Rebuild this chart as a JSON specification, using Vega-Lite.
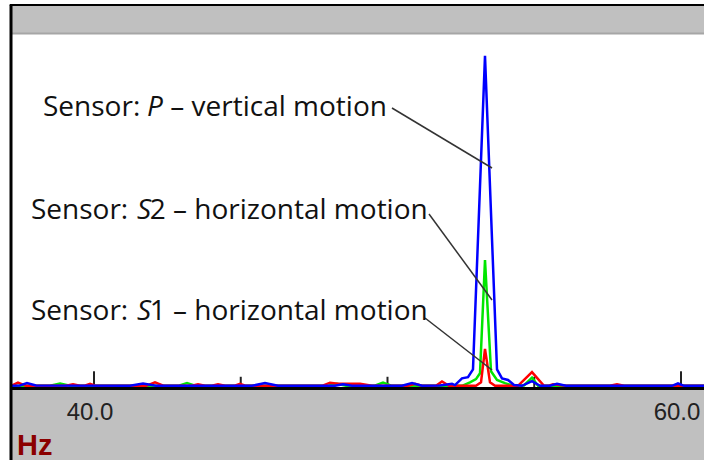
{
  "$schema": "https://vega.github.io/schema/vega-lite/v6.json",
  "width": 704,
  "height": 460,
  "padding": 0,
  "autosize": {"type": "none"},
  "background": "white",
  "config": {"view": {"stroke": null}},
  "datasets": {
    "header": [{"x": 37.14, "x2": 60.784, "y": 9.0, "y2": 9.70}],
    "footer": [{"x": 37.14, "x2": 60.784, "y": -1.856, "y2": -0.05}],
    "hgrid": [{"y": 1}, {"y": 2}, {"y": 3}, {"y": 4}, {"y": 5}, {"y": 6}, {"y": 7}, {"y": 8}],
    "vgrid": [{"x": 40}, {"x": 60}],
    "ticks": [
      {"x": 40, "y": 0, "y2": 0.4},
      {"x": 45, "y": 0, "y2": 0.26},
      {"x": 50, "y": 0, "y2": 0.26},
      {"x": 55, "y": 0, "y2": 0.26},
      {"x": 60, "y": 0, "y2": 0.4}
    ],
    "p": [
      {"x": 37.206, "y": 0.03}, {"x": 37.479, "y": 0.04}, {"x": 37.717, "y": 0.10}, {"x": 38.024, "y": 0.04},
      {"x": 41.227, "y": 0.03}, {"x": 41.670, "y": 0.09}, {"x": 42.112, "y": 0.03},
      {"x": 45.383, "y": 0.03}, {"x": 45.826, "y": 0.10}, {"x": 46.269, "y": 0.03},
      {"x": 48.211, "y": 0.03}, {"x": 48.484, "y": 0.07}, {"x": 48.790, "y": 0.03},
      {"x": 50.494, "y": 0.03}, {"x": 50.835, "y": 0.10}, {"x": 51.175, "y": 0.03},
      {"x": 51.789, "y": 0.04}, {"x": 52.198, "y": 0.08}, {"x": 52.300, "y": 0.05},
      {"x": 52.538, "y": 0.22}, {"x": 52.743, "y": 0.25}, {"x": 52.913, "y": 0.45},
      {"x": 53.322, "y": 8.42},
      {"x": 53.731, "y": 0.45}, {"x": 53.901, "y": 0.22}, {"x": 54.106, "y": 0.18}, {"x": 54.310, "y": 0.05},
      {"x": 54.583, "y": 0.03}, {"x": 54.923, "y": 0.15}, {"x": 55.196, "y": 0.03},
      {"x": 55.537, "y": 0.03}, {"x": 55.775, "y": 0.08}, {"x": 56.082, "y": 0.03},
      {"x": 59.693, "y": 0.03}, {"x": 59.898, "y": 0.09}, {"x": 60.102, "y": 0.03}, {"x": 60.784, "y": 0.03}
    ],
    "s2": [
      {"x": 37.206, "y": 0.03}, {"x": 38.501, "y": 0.03}, {"x": 38.842, "y": 0.09}, {"x": 39.183, "y": 0.03},
      {"x": 42.862, "y": 0.03}, {"x": 43.169, "y": 0.10}, {"x": 43.475, "y": 0.03},
      {"x": 47.973, "y": 0.03}, {"x": 48.279, "y": 0.08}, {"x": 48.586, "y": 0.03},
      {"x": 49.540, "y": 0.03}, {"x": 49.847, "y": 0.11}, {"x": 50.153, "y": 0.03},
      {"x": 52.538, "y": 0.03}, {"x": 52.811, "y": 0.12}, {"x": 53.015, "y": 0.20}, {"x": 53.152, "y": 0.35},
      {"x": 53.322, "y": 3.23},
      {"x": 53.527, "y": 0.40}, {"x": 53.731, "y": 0.18}, {"x": 54.003, "y": 0.10}, {"x": 54.242, "y": 0.04},
      {"x": 54.651, "y": 0.04}, {"x": 54.923, "y": 0.24}, {"x": 55.128, "y": 0.03}, {"x": 60.784, "y": 0.03}
    ],
    "s1": [
      {"x": 37.206, "y": 0.04}, {"x": 37.411, "y": 0.11}, {"x": 37.683, "y": 0.03},
      {"x": 39.046, "y": 0.03}, {"x": 39.284, "y": 0.07}, {"x": 39.523, "y": 0.03},
      {"x": 39.659, "y": 0.03}, {"x": 39.864, "y": 0.08}, {"x": 40.068, "y": 0.03},
      {"x": 41.772, "y": 0.03}, {"x": 42.078, "y": 0.12}, {"x": 42.385, "y": 0.03},
      {"x": 43.339, "y": 0.03}, {"x": 43.543, "y": 0.07}, {"x": 43.782, "y": 0.03},
      {"x": 44.022, "y": 0.03}, {"x": 44.225, "y": 0.07}, {"x": 44.463, "y": 0.03},
      {"x": 44.770, "y": 0.03}, {"x": 44.974, "y": 0.08}, {"x": 45.179, "y": 0.03},
      {"x": 47.768, "y": 0.03}, {"x": 48.041, "y": 0.11}, {"x": 48.313, "y": 0.08},
      {"x": 49.063, "y": 0.08}, {"x": 49.472, "y": 0.03},
      {"x": 50.699, "y": 0.03}, {"x": 50.937, "y": 0.08}, {"x": 51.175, "y": 0.03},
      {"x": 51.652, "y": 0.03}, {"x": 51.857, "y": 0.14}, {"x": 52.095, "y": 0.03},
      {"x": 53.015, "y": 0.03}, {"x": 53.186, "y": 0.12}, {"x": 53.322, "y": 0.97},
      {"x": 53.492, "y": 0.12}, {"x": 53.663, "y": 0.03},
      {"x": 54.446, "y": 0.03}, {"x": 54.923, "y": 0.38}, {"x": 55.332, "y": 0.03},
      {"x": 55.468, "y": 0.03}, {"x": 55.639, "y": 0.07}, {"x": 56.082, "y": 0.03},
      {"x": 57.581, "y": 0.03}, {"x": 57.819, "y": 0.07}, {"x": 58.058, "y": 0.03}, {"x": 60.784, "y": 0.03}
    ],
    "leaders": [
      {"x": 50.153, "y": 7.094, "x2": 53.561, "y2": 5.568},
      {"x": 51.414, "y": 4.399, "x2": 53.561, "y2": 2.212},
      {"x": 51.278, "y": 1.754, "x2": 53.561, "y2": 0.432}
    ],
    "ann_normal": [
      {"x": 38.262, "y": 6.89, "t": "Sensor:"},
      {"x": 42.60, "y": 6.89, "t": "– vertical motion"},
      {"x": 37.853, "y": 4.272, "t": "Sensor:"},
      {"x": 41.90, "y": 4.272, "t": "2 – horizontal motion"},
      {"x": 37.853, "y": 1.704, "t": "Sensor:"},
      {"x": 41.90, "y": 1.704, "t": "1 – horizontal motion"}
    ],
    "ann_italic": [
      {"x": 41.806, "y": 6.89, "t": "P"},
      {"x": 41.465, "y": 4.272, "t": "S"},
      {"x": 41.465, "y": 1.704, "t": "S"}
    ],
    "axlabels": [
      {"x": 39.864, "y": -0.839, "t": "40.0"},
      {"x": 59.864, "y": -0.839, "t": "60.0"}
    ],
    "unit": [{"x": 37.377, "y": -1.74, "t": "Hz"}]
  },
  "encoding": {
    "x": {"field": "x", "type": "quantitative", "scale": {"domain": [36.797, 60.784], "nice": false, "zero": false}, "axis": null},
    "y": {"field": "y", "type": "quantitative", "scale": {"domain": [-1.856, 9.84], "nice": false, "zero": false}, "axis": null}
  },
  "layer": [
    {
      "data": {"name": "hgrid"},
      "mark": {"type": "rule", "color": "#d9d9d9", "strokeWidth": 1.5},
      "encoding": {"x": {"datum": 37.2}, "x2": {"datum": 60.784}}
    },
    {
      "data": {"name": "vgrid"},
      "mark": {"type": "rule", "color": "#d9d9d9", "strokeWidth": 1.5},
      "encoding": {"y": {"datum": 0}, "y2": {"datum": 9}}
    },
    {
      "data": {"name": "header"},
      "mark": {"type": "rect", "color": "#c0c0c0"},
      "encoding": {"x2": {"field": "x2"}, "y2": {"field": "y2"}}
    },
    {
      "data": {"name": "header"},
      "mark": {"type": "rule", "color": "#a6a6a6", "strokeWidth": 2},
      "encoding": {"x2": {"field": "x2"}, "y": {"datum": 8.99}}
    },
    {
      "data": {"name": "footer"},
      "mark": {"type": "rect", "color": "#c0c0c0"},
      "encoding": {"x2": {"field": "x2"}, "y2": {"field": "y2"}}
    },
    {
      "data": {"name": "ticks"},
      "mark": {"type": "rule", "color": "#222222", "strokeWidth": 2},
      "encoding": {"y2": {"field": "y2"}}
    },
    {
      "data": {"name": "s2"},
      "mark": {"type": "line", "color": "#00e600", "strokeWidth": 2.5},
      "encoding": {}
    },
    {
      "data": {"name": "s1"},
      "mark": {"type": "line", "color": "#ff0000", "strokeWidth": 2.5},
      "encoding": {}
    },
    {
      "data": {"name": "p"},
      "mark": {"type": "line", "color": "#0000ff", "strokeWidth": 2.5},
      "encoding": {}
    },
    {
      "data": {"name": "leaders"},
      "mark": {"type": "rule", "color": "#333333", "strokeWidth": 1.5},
      "encoding": {"x2": {"field": "x2"}, "y2": {"field": "y2"}}
    },
    {
      "data": {"name": "ann_normal"},
      "mark": {"type": "text", "align": "left", "baseline": "alphabetic", "font": "Open Sans", "fontSize": 28, "color": "#111111"},
      "encoding": {"text": {"field": "t"}}
    },
    {
      "data": {"name": "ann_italic"},
      "mark": {"type": "text", "align": "left", "baseline": "alphabetic", "font": "Open Sans", "fontSize": 28, "fontStyle": "italic", "color": "#111111"},
      "encoding": {"text": {"field": "t"}}
    },
    {
      "data": {"name": "footer"},
      "mark": {"type": "rule", "color": "#000000", "strokeWidth": 3},
      "encoding": {"x": {"datum": 37.14}, "x2": {"datum": 60.784}, "y": {"datum": -0.04}}
    },
    {
      "data": {"name": "footer"},
      "mark": {"type": "rule", "color": "#000000", "strokeWidth": 3},
      "encoding": {"x": {"datum": 37.172}, "y": {"datum": -1.856}, "y2": {"datum": 9.72}}
    },
    {
      "data": {"name": "footer"},
      "mark": {"type": "rule", "color": "#000000", "strokeWidth": 2},
      "encoding": {"x": {"datum": 37.13}, "x2": {"datum": 60.784}, "y": {"datum": 9.713}}
    },
    {
      "data": {"name": "axlabels"},
      "mark": {"type": "text", "align": "center", "baseline": "alphabetic", "font": "Liberation Sans", "fontSize": 24, "color": "#222222"},
      "encoding": {"text": {"field": "t"}}
    },
    {
      "data": {"name": "unit"},
      "mark": {"type": "text", "align": "left", "baseline": "alphabetic", "font": "Liberation Sans", "fontSize": 29, "fontWeight": "bold", "color": "#8b0000"},
      "encoding": {"text": {"field": "t"}}
    }
  ]
}
